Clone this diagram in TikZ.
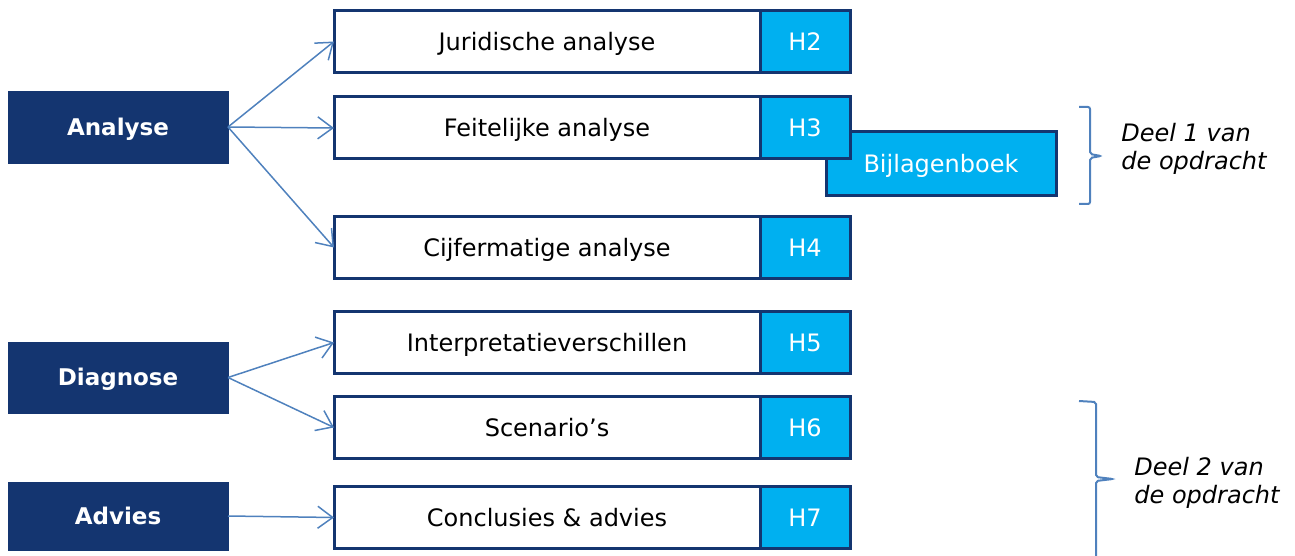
\documentclass[tikz,border=0pt]{standalone}
\usepackage{fontspec}
\setmainfont{DejaVu Sans}
\usetikzlibrary{arrows.meta}
\definecolor{navy}{RGB}{20,53,112}
\definecolor{cyaan}{RGB}{0,176,240}
\definecolor{pijl}{RGB}{79,129,189}
\begin{document}
\begin{tikzpicture}[x=1pt, y=-1pt,
    fase/.style={fill=navy, draw=navy, text=white, font=\fontsize{23}{28}\selectfont\bfseries,
        minimum width=220pt, text height=16.8pt, text depth=0pt, outer sep=0pt},
    stap/.style={fill=white, draw=navy, line width=3pt, font=\fontsize{24}{28}\selectfont,
        minimum width=426pt, minimum height=62pt, text height=17.5pt, text depth=0pt, outer sep=0pt},
    hfd/.style={fill=cyaan, draw=navy, line width=3pt, text=white, font=\fontsize{24}{28}\selectfont,
        minimum width=90pt, minimum height=62pt, text height=17.5pt, text depth=0pt, outer sep=0pt},
    pijlen/.style={draw=pijl, line width=1.5pt, -{Straight Barb[length=15pt,width=22pt]}},
    accolade/.style={draw=pijl, line width=2pt, rounded corners=2pt},
    deel/.style={font=\fontsize{24}{28}\selectfont\itshape, align=left}]
    \useasboundingbox (0,0) rectangle (1295,556);
    % the bijlagenboek (behind H3)
    \node[hfd, minimum width=230pt, minimum height=64pt] (bijl) at (941,164) {Bijlagenboek};
    % the phases
    \node[fase, minimum height=72pt] (analyse) at (118,127) {Analyse};
    \node[fase, minimum height=71pt] (diagnose) at (118,377.5) {Diagnose};
    \node[fase, minimum height=68pt] (advies) at (118,516) {Advies};
    % the chapters
    \node[stap] (jur) at (547,41.5) {Juridische analyse};
    \node[hfd] (h2) at (805,41.5) {H2};
    \node[stap] (feit) at (547,128) {Feitelijke analyse};
    \node[hfd] (h3) at (805,128) {H3};
    \node[stap] (cijf) at (547,247.5) {Cijfermatige analyse};
    \node[hfd] (h4) at (805,247.5) {H4};
    \node[stap] (interp) at (547,342.5) {Interpretatieverschillen};
    \node[hfd] (h5) at (805,342.5) {H5};
    \node[stap] (scen) at (547,427.5) {Scenario’s};
    \node[hfd] (h6) at (805,427.5) {H6};
    \node[stap] (concl) at (547,517.5) {Conclusies \& advies};
    \node[hfd] (h7) at (805,517.5) {H7};
    % draw the arrows
    \draw[pijlen] (analyse.east) -- (jur.west);
    \draw[pijlen] (analyse.east) -- (feit.west);
    \draw[pijlen] (analyse.east) -- (cijf.west);
    \draw[pijlen] (diagnose.east) -- (interp.west);
    \draw[pijlen] (diagnose.east) -- (scen.west);
    \draw[pijlen] (advies.east) -- (concl.west);
    % the braces and their texts
    \coordinate (b1top) at (1079,107);
    \coordinate (b1bot) at (1079,204);
    \coordinate (b2top) at (1079,401);
    \coordinate (b2bot) at (1079,556);
    \draw[accolade] (b1top) -- (1090,107) -- (1090,154) -- (1101,156) -- (1090,158) -- (1090,204) -- (b1bot);
    \draw[accolade] (b2top) -- (1096,402) -- (1096,477) -- (1113,479) -- (1096,481) -- (1096,556);
    \node[deel] (deel1) at (1194,149) {Deel 1 van\\de opdracht};
    \node[deel] (deel2) at (1207,483) {Deel 2 van\\de opdracht};
\end{tikzpicture}
\end{document}
